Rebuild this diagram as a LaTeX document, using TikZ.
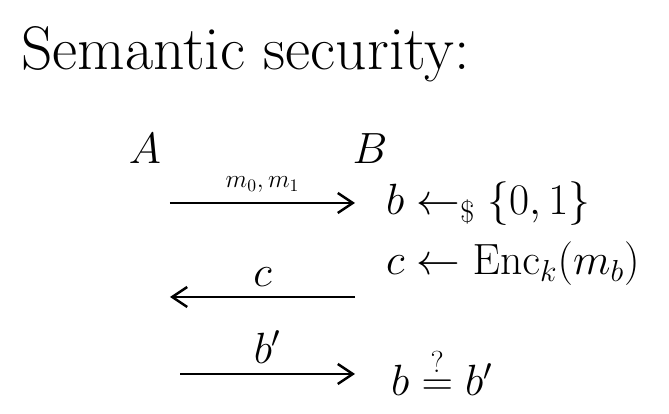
\documentclass[tikz,border=0pt]{standalone}
\usepackage{amsmath, amssymb}
\usepackage{tikz}
\usetikzlibrary{positioning, arrows.meta}

\begin{document}
\begin{tikzpicture}[every node/.style={font=\fontsize{23}{28}\selectfont}, msg/.style={line width=1.4pt, -{Straight Barb[length=3mm, width=4mm]}}]
    \useasboundingbox (0,0) rectangle (13.38,8.28);
    \node[anchor=west, font=\fontsize{35}{42}\selectfont] (title) at (0.3,7.2) {Semantic security:};
    \node (A) at (2.9,5.3) {$A$};
    \node (B) at (7.4,5.3) {$B$};
    % messages between A and B
    \coordinate (s1) at (3.4,4.22);
    \coordinate (e1) at (7.1,4.22);
    \coordinate (s2) at (7.1,2.34);
    \coordinate (e2) at (3.4,2.34);
    \coordinate (s3) at (3.6,0.8);
    \coordinate (e3) at (7.1,0.8);
    \draw[msg] (s1) -- (e1) node[midway, above=2pt, font=\Large] (m) {$m_0,m_1$};
    \draw[msg] (s2) -- (e2) node[midway, above=2pt] (c) {$c$};
    \draw[msg] (s3) -- (e3) node[midway, above=2pt] (bp) {$b'$};
    % what B does
    \node[anchor=west] (pick) at (7.6,4.2) {$b \leftarrow_{\$} \{0,1\}$};
    \node[anchor=west] (enc) at (7.6,3.0) {$c \leftarrow \mathrm{Enc}_k(m_b)$};
    \node[anchor=west] (guess) at (7.7,0.85) {$b \stackrel{?}{=} b'$};
\end{tikzpicture}
\end{document}
